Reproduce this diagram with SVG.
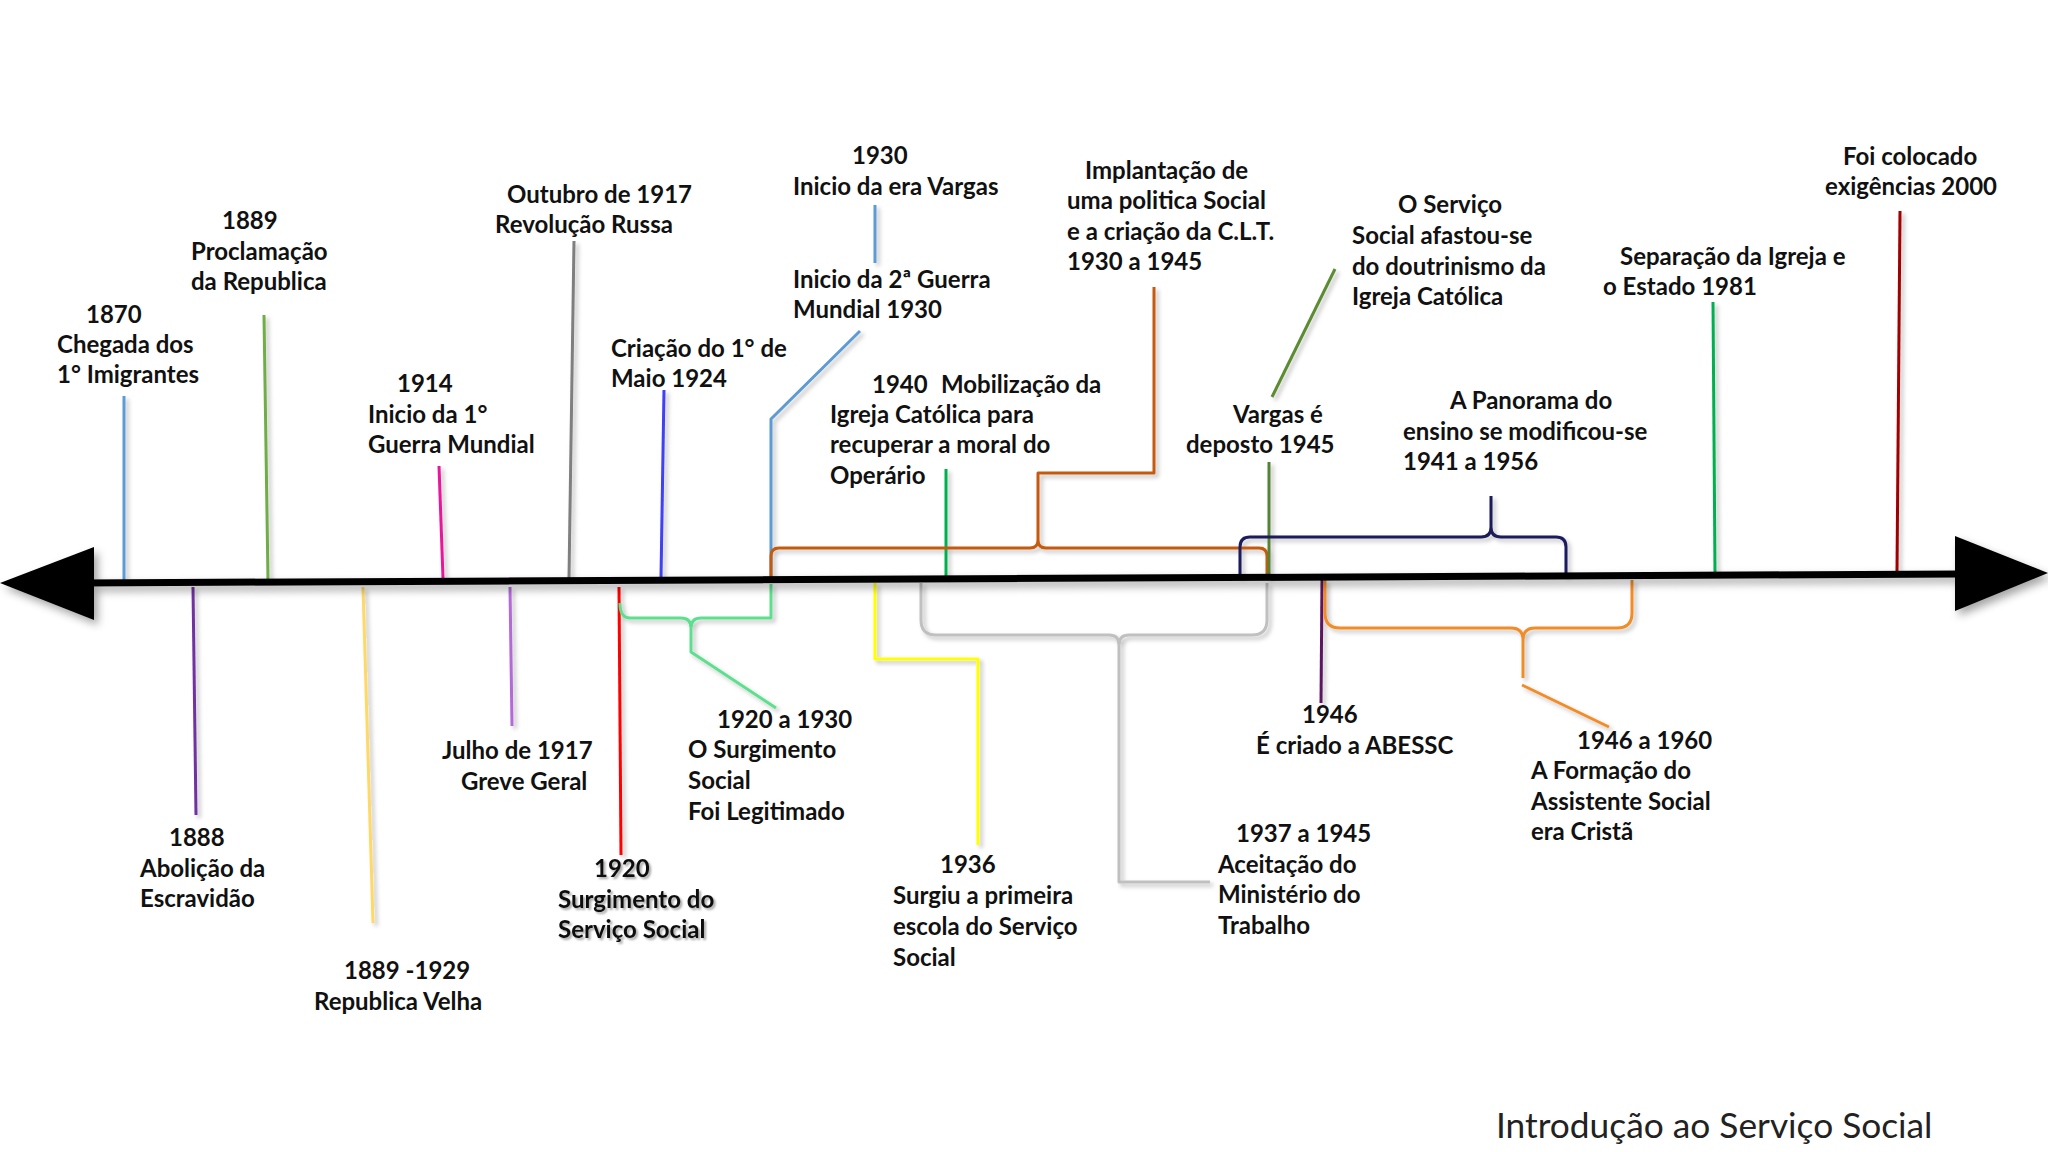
<svg xmlns="http://www.w3.org/2000/svg" width="2048" height="1152" viewBox="0 0 2048 1152">
<defs>
<style>
text{font-family:Lato,"Open Sans","Liberation Sans",sans-serif;font-weight:700;font-size:24px;fill:#111}
.title{font-weight:400;font-size:35.3px;fill:#222}
.ln{fill:none;stroke-width:3;stroke-linejoin:round;stroke-linecap:butt}
.sh{filter:url(#ds)}
.ts{filter:url(#tds)}
</style>
<filter id="ds" x="-20%" y="-20%" width="140%" height="140%">
<feDropShadow dx="3" dy="3" stdDeviation="2" flood-color="#000" flood-opacity="0.25"/>
</filter>
<filter id="axs" x="-5%" y="-50%" width="110%" height="200%">
<feDropShadow dx="4" dy="5" stdDeviation="4" flood-color="#000" flood-opacity="0.35"/>
</filter>
<filter id="tds" x="-10%" y="-30%" width="120%" height="160%">
<feDropShadow dx="2" dy="2" stdDeviation="1.2" flood-color="#000" flood-opacity="0.35"/>
</filter>
</defs>
<rect width="2048" height="1152" fill="#fff"/>

<g id="connectors" class="sh">
<line class="ln" x1="124" y1="396" x2="124" y2="580" stroke="#5b9bd5"/>
<line class="ln" x1="264" y1="315" x2="268" y2="580" stroke="#70ad47"/>
<line class="ln" x1="439" y1="466" x2="443" y2="578" stroke="#e8199a"/>
<line class="ln" x1="574" y1="241" x2="569" y2="578" stroke="#7f7f7f"/>
<line class="ln" x1="664" y1="390" x2="661" y2="578" stroke="#3f3ff5"/>
<line class="ln" x1="875" y1="205" x2="875" y2="263" stroke="#5b9bd5"/>
<polyline class="ln" points="860,331 771,419 771,578" stroke="#5b9bd5"/>
<line class="ln" x1="946" y1="469" x2="946" y2="577" stroke="#00b050"/>
<path class="ln" d="M771,577 V556 Q771,548 779,548 H1030 Q1038,548 1038,540 V473 H1154 V287 M1038,540 Q1038,548 1046,548 H1259 Q1267,548 1267,556 V577" stroke="#c55a11"/>
<line class="ln" x1="1335" y1="269" x2="1272" y2="397" stroke="#5b8c32"/>
<line class="ln" x1="1269" y1="462" x2="1269" y2="577" stroke="#548235"/>
<path class="ln" d="M1240,577 V547 Q1240,537 1250,537 H1481 Q1491,537 1491,527 V496 M1491,527 Q1491,537 1501,537 H1556 Q1566,537 1566,547 V576" stroke="#1c1c5c"/>
<line class="ln" x1="1713" y1="302" x2="1715" y2="573" stroke="#00b050"/>
<line class="ln" x1="1900" y1="211" x2="1897" y2="571" stroke="#a00000"/>
<line class="ln" x1="193" y1="587" x2="196" y2="815" stroke="#7030a0"/>
<line class="ln" x1="363" y1="587" x2="373" y2="923" stroke="#ffd966" stroke-width="2"/>
<line class="ln" x1="510" y1="587" x2="512" y2="726" stroke="#b469d9"/>
<line class="ln" x1="619" y1="587" x2="621" y2="855" stroke="#ff0000"/>
<path class="ln" d="M620,603 Q620,618 630,618 H681 Q691,618 691,628 V652 L776,708 M691,628 Q691,618 701,618 H771 V584" stroke="#5ce08e"/>
<polyline class="ln" points="875,583 875,659 978,659 978,845" stroke="#ffff00"/>
<path class="ln" d="M921,583 V620 Q921,635 936,635 H1109 Q1119,635 1119,645 V882 H1210 M1119,645 Q1119,635 1129,635 H1252 Q1267,635 1267,620 V583" stroke="#c0c0c0"/>
<line class="ln" x1="1322" y1="580" x2="1321" y2="703" stroke="#5c1560"/>
<path class="ln" d="M1325,580 V613 Q1325,628 1340,628 H1511 Q1523,628 1523,640 V678 M1523,640 Q1523,628 1535,628 H1617 Q1632,628 1632,613 V580 M1522,685 L1609,727" stroke="#f28c28"/>
</g>

<g id="axis" filter="url(#axs)">
<line x1="80" y1="583" x2="1960" y2="574" stroke="#000" stroke-width="7"/>
<polygon points="0,583 94,547 94,620" fill="#000"/>
<polygon points="2048,573 1955,536 1955,611" fill="#000"/>
</g>

<g id="n1870"><text x="86" y="323">1870</text><text x="57" y="353">Chegada dos</text><text x="57" y="383">1° Imigrantes</text></g>
<g id="n1889"><text x="222" y="229">1889</text><text x="191" y="260">Proclamação</text><text x="191" y="290">da Republica</text></g>
<g id="n1914"><text x="397" y="392">1914</text><text x="368" y="423">Inicio da 1°</text><text x="368" y="453">Guerra Mundial</text></g>
<g id="n1917out"><text x="507" y="203">Outubro de 1917</text><text x="495" y="233">Revolução Russa</text></g>
<g id="n1924"><text x="611" y="357">Criação do 1° de</text><text x="611" y="387">Maio 1924</text></g>
<g id="n1930"><text x="852" y="164">1930</text><text x="793" y="195">Inicio da era Vargas</text></g>
<g id="n1930b"><text x="793" y="288">Inicio da 2ª Guerra</text><text x="793" y="318">Mundial 1930</text></g>
<g id="n1940"><text x="872" y="393">1940</text><text x="941" y="393">Mobilização da</text><text x="830" y="423">Igreja Católica para</text><text x="830" y="453">recuperar a moral do</text><text x="830" y="484">Operário</text></g>
<g id="nclt"><text x="1085" y="179">Implantação de</text><text x="1067" y="209">uma politica Social</text><text x="1067" y="240">e a criação da C.L.T.</text><text x="1067" y="270">1930 a 1945</text></g>
<g id="nvargas"><text x="1233" y="423">Vargas é</text><text x="1186" y="453">deposto 1945</text></g>
<g id="nservico"><text x="1398" y="213">O Serviço</text><text x="1352" y="244">Social afastou-se</text><text x="1352" y="275">do doutrinismo da</text><text x="1352" y="305">Igreja Católica</text></g>
<g id="npanorama"><text x="1450" y="409">A Panorama do</text><text x="1403" y="440">ensino se modificou-se</text><text x="1403" y="470">1941 a 1956</text></g>
<g id="n1981"><text x="1620" y="265">Separação da Igreja e</text><text x="1603" y="295">o Estado 1981</text></g>
<g id="n2000"><text x="1843" y="165">Foi colocado</text><text x="1825" y="195">exigências 2000</text></g>

<g id="n1888"><text x="169" y="846">1888</text><text x="140" y="877">Abolição da</text><text x="140" y="907">Escravidão</text></g>
<g id="nvelha"><text x="344" y="979">1889 -1929</text><text x="314" y="1010">Republica Velha</text></g>
<g id="n1917jul"><text x="442" y="759">Julho de 1917</text><text x="461" y="790">Greve Geral</text></g>
<g id="n1920" class="ts"><text x="594" y="877">1920</text><text x="558" y="908">Surgimento do</text><text x="558" y="938">Serviço Social</text></g>
<g id="n1920a1930"><text x="717" y="728">1920 a 1930</text><text x="688" y="758">O Surgimento</text><text x="688" y="789">Social</text><text x="688" y="820">Foi Legitimado</text></g>
<g id="n1936"><text x="940" y="873">1936</text><text x="893" y="904">Surgiu a primeira</text><text x="893" y="935">escola do Serviço</text><text x="893" y="966">Social</text></g>
<g id="n1937"><text x="1236" y="842">1937 a 1945</text><text x="1218" y="873">Aceitação do</text><text x="1218" y="903">Ministério do</text><text x="1218" y="934">Trabalho</text></g>
<g id="n1946"><text x="1302" y="723">1946</text><text x="1256" y="754">É criado a ABESSC</text></g>
<g id="n1946a1960"><text x="1577" y="749">1946 a 1960</text><text x="1531" y="779">A Formação do</text><text x="1531" y="810">Assistente Social</text><text x="1531" y="840">era Cristã</text></g>

<g id="title"><text class="title" x="1496" y="1138">Introdução ao Serviço Social</text></g>
</svg>
